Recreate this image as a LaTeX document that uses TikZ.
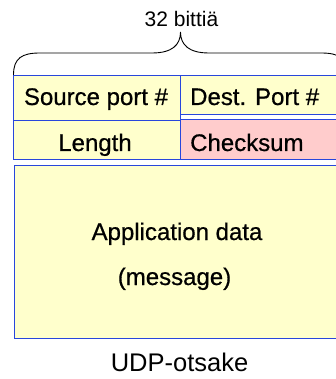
\documentclass[tikz,border=0pt]{standalone}
\usepackage{fontspec}
\setmainfont{Liberation Sans}
\newfontfamily\cellfont[FakeBold=0.6]{Liberation Sans}
\usepackage{xcolor}
\usetikzlibrary{positioning}
\definecolor{cellblue}{RGB}{40,70,220}
\definecolor{cellyellow}{RGB}{255,255,204}
\definecolor{cellpink}{RGB}{255,204,204}

\begin{document}
\begin{tikzpicture}[x=1pt,y=-1pt,
  cell/.style={draw=cellblue,line width=1pt,fill=cellyellow,inner sep=0pt,minimum width=167pt},
  celltext/.style={inner sep=0pt,font=\cellfont\fontsize{24}{28}\selectfont}]
  \useasboundingbox (0,0) rectangle (336,379);
  % header rows
  \node[cell,minimum height=45pt] (src) at (97.25,98.5) {};
  \node[cell,minimum height=39pt] (dst) at (264.25,95.5) {};
  \node[cell,minimum height=39pt] (len) at (97.25,140.5) {};
  \node[cell,minimum height=40pt,fill=cellpink] (chk) at (264.25,140) {};
  % data
  \node[cell,minimum width=334pt,minimum height=172pt] (app) at (181,252) {};

  \node[celltext,anchor=base] (srctxt) at (96,105) {Source port \#};
  \node[celltext,anchor=base west] (dsttxt) at (190,105) {Dest. Port \#};
  \node[celltext,anchor=base] (lentxt) at (95,151) {Length};
  \node[celltext,anchor=base west] (chktxt) at (190,151) {Checksum};
  \node[celltext,anchor=base] (apptxt) at (177,240) {Application data};
  \node[celltext,anchor=base] (msgtxt) at (174.5,285) {(message)};

  % brace
  \draw[line width=0.9pt] (13.5,75) .. controls (13.5,58) and (22,53) .. (40,53) -- (152,53)
     .. controls (172,53) and (180.5,45) .. (180.5,32)
     .. controls (180.5,45) and (189,53) .. (209,53) -- (321,53)
     .. controls (339,53) and (347.5,58) .. (347.5,75);
  \node[inner sep=0pt,anchor=base,font=\fontsize{21}{25}\selectfont] (bits) at (181.5,26.5) {32 bittiä};
  \node[inner sep=0pt,anchor=base,font=\fontsize{25.5}{30}\selectfont] (udp) at (179.5,371) {UDP-otsake};
\end{tikzpicture}
\end{document}
